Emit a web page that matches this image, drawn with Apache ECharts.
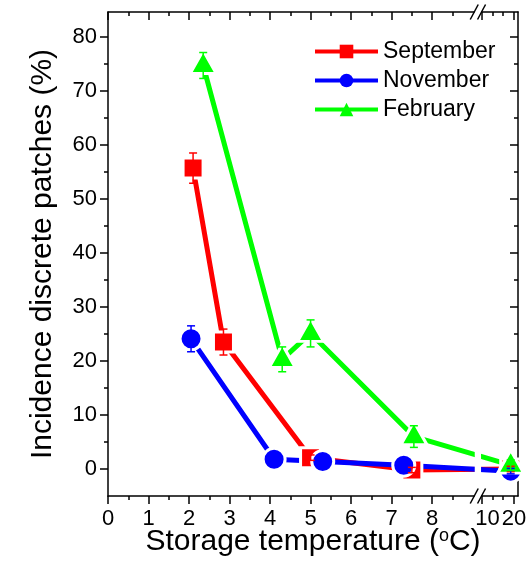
<!DOCTYPE html>
<html>
<head>
<meta charset="utf-8">
<script src="https://cdn.jsdelivr.net/npm/echarts@6/dist/echarts.min.js"></script>
<style>
  html, body { margin: 0; padding: 0; background: #fff; }
  #chart { width: 531px; height: 570px; }
</style>
</head>
<body>
<div id="chart"></div>
<script>
// Incidence of discrete patches (%) by storage temperature (°C), per harvest month
const septTemp = [2.1, 2.85, 5.0, 7.5, 19];
const septIncidence = [55.7, 23.5, 2.1, -0.2, 0];
const septError = [2.8, 2.4, 0.5, 0.5, 0.5];

const novTemp = [2.05, 4.1, 5.3, 7.3, 19];
const novIncidence = [24.1, 1.8, 1.4, 0.7, -0.4];
const novError = [2.4, 0.5, 0.5, 0.5, 0.5];

const febTemp = [2.35, 4.3, 5.0, 7.55, 19];
const febIncidence = [74.7, 20.3, 25.1, 6.0, 0.7];
const febError = [2.4, 2.3, 2.5, 2.0, 1.0];

const xMajorTicks = [0, 1, 2, 3, 4, 5, 6, 7, 8, 10, 20];
const xMinorTicks = [0.5, 1.5, 2.5, 3.5, 4.5, 5.5, 6.5, 7.5, 8.5, 13.33, 16.67];
const yMajorTicks = [0, 10, 20, 30, 40, 50, 60, 70, 80];
const yMinorTicks = [5, 15, 25, 35, 45, 55, 65, 75];

const FONT = '"Liberation Sans", Arial, Helvetica, sans-serif';

// Broken temperature axis: 0–9 °C at full scale, 10–20 °C compressed after the break
const LOW_END = 9.04;      // where the lower segment stops
const HIGH_START = 10;     // first value of the upper segment
const HIGH_POS = 9.22;     // axis position of HIGH_START
const HIGH_SCALE = 0.08;   // axis units per °C in the upper segment
const X_MAX = 10.12;
const Y_MIN = -5, Y_MAX = 84.6;

function toAxis(t) {
  return t <= LOW_END ? t : HIGH_POS + (t - HIGH_START) * HIGH_SCALE;
}
function fromAxis(v) {
  return v <= LOW_END + 0.05 ? v : HIGH_START + (v - HIGH_POS) / HIGH_SCALE;
}

const chart = echarts.init(document.getElementById('chart'), null, { renderer: 'canvas' });

const black = '#000';
const axisLineStyle = { color: black, width: 1.5 };
const tickStyle = { color: black, width: 1.5 };

const xBase = { type: 'value', min: 0, max: X_MAX, splitLine: { show: false } };
const yBase = { type: 'value', min: Y_MIN, max: Y_MAX, splitLine: { show: false } };

function tickAxis(base, position, values, length, inside, showLine) {
  return Object.assign({}, base, {
    position: position,
    axisLine: { show: showLine, onZero: false, lineStyle: axisLineStyle },
    axisTick: { show: true, customValues: values, length: length, inside: inside, lineStyle: tickStyle },
    axisLabel: { show: false },
    minorTick: { show: false }
  });
}

const xMajorPos = xMajorTicks.map(toAxis);
const xMinorPos = xMinorTicks.map(toAxis);

function lineSeries(name, color, symbol, size, offset, temps, values) {
  return {
    type: 'line',
    name: name,
    xAxisIndex: 0,
    yAxisIndex: 0,
    data: temps.map((t, i) => [toAxis(t), values[i]]),
    symbol: symbol,
    symbolSize: size,
    symbolOffset: offset,
    showAllSymbol: true,
    lineStyle: { color: color, width: 5 },
    itemStyle: { color: color, borderColor: '#fff', borderWidth: 3 },
    emphasis: { disabled: true },
    animation: false,
    z: 2
  };
}

function errorSeries(name, color, temps, values, errors) {
  return {
    type: 'custom',
    name: name,
    xAxisIndex: 0,
    yAxisIndex: 0,
    silent: true,
    animation: false,
    z: 4,
    data: temps.map((t, i) => [toAxis(t), values[i] - errors[i], values[i] + errors[i]]),
    renderItem: function (params, api) {
      const x = api.value(0);
      const lo = api.coord([x, api.value(1)]);
      const hi = api.coord([x, api.value(2)]);
      const hw = 4;
      const style = { stroke: color, lineWidth: 1.5 };
      return {
        type: 'group',
        children: [
          { type: 'line', shape: { x1: hi[0], y1: hi[1], x2: lo[0], y2: lo[1] }, style: style },
          { type: 'line', shape: { x1: hi[0] - hw, y1: hi[1], x2: hi[0] + hw, y2: hi[1] }, style: style },
          { type: 'line', shape: { x1: lo[0] - hw, y1: lo[1], x2: lo[0] + hw, y2: lo[1] }, style: style }
        ]
      };
    }
  };
}

const option = {
  backgroundColor: '#fff',
  animation: false,
  grid: { left: 108, top: 12, width: 410, height: 484, containLabel: false, outerBoundsMode: 'none' },
  legend: {
    orient: 'vertical',
    left: 313,
    top: 40,
    padding: 0,
    z: 20,
    itemWidth: 63,
    itemHeight: 17,
    itemGap: 6,
    selectedMode: false,
    textStyle: { fontSize: 23, color: black, fontFamily: FONT },
    lineStyle: { width: 4 },
    itemStyle: { borderWidth: 0 },
    data: ['September', 'November', 'February']
  },
  xAxis: [
    Object.assign({}, xBase, {
      position: 'bottom',
      axisLine: { show: true, onZero: false, lineStyle: axisLineStyle },
      axisTick: { show: true, customValues: xMajorPos, length: 8, lineStyle: tickStyle },
      axisLabel: {
        show: true,
        customValues: xMajorPos,
        margin: 12,
        fontSize: 22,
        color: black,
        fontFamily: FONT,
        formatter: function (v) {
          const t = Math.round(fromAxis(v));
          return t === 10 ? '{shift|10}' : String(t);
        },
        rich: { shift: { fontSize: 22, color: black, fontFamily: FONT, padding: [0, 0, 0, 12] } }
      },
      name: 'Storage temperature ({sup|o}C)',
      nameLocation: 'middle',
      nameGap: 31,
      nameMoveOverlap: false,
      nameTextStyle: {
        fontSize: 30, color: black, fontFamily: FONT,
        rich: { sup: { fontSize: 18, color: black, fontFamily: FONT, verticalAlign: 'top', padding: [0, 0, 12, 0] } }
      }
    }),
    tickAxis(xBase, 'top', xMajorPos, 8, true, true),
    tickAxis(xBase, 'bottom', xMinorPos, 4, false, false),
    tickAxis(xBase, 'top', xMinorPos, 4, true, false)
  ],
  yAxis: [
    Object.assign({}, yBase, {
      position: 'left',
      axisLine: { show: true, onZero: false, lineStyle: axisLineStyle },
      axisTick: { show: true, customValues: yMajorTicks, length: 8, lineStyle: tickStyle },
      axisLabel: {
        show: true, customValues: yMajorTicks, margin: 11,
        fontSize: 22, color: black, fontFamily: FONT
      },
      name: 'Incidence discrete patches (%)',
      nameLocation: 'middle',
      nameRotate: 90,
      nameGap: 50,
      nameMoveOverlap: false,
      nameTextStyle: { fontSize: 30, color: black, fontFamily: FONT }
    }),
    tickAxis(yBase, 'right', yMajorTicks, 8, true, true),
    tickAxis(yBase, 'left', yMinorTicks, 4, false, false),
    tickAxis(yBase, 'right', yMinorTicks, 4, true, false)
  ],
  series: [
    lineSeries('September', '#ff0000', 'rect', 20, [0, 0], septTemp, septIncidence),
    lineSeries('November', '#0000ff', 'circle', 22, [0, 0], novTemp, novIncidence),
    lineSeries('February', '#00ff00', 'triangle', [26, 23], [0, -3.5], febTemp, febIncidence),
    errorSeries('September error', '#ff0000', septTemp, septIncidence, septError),
    errorSeries('November error', '#0000ff', novTemp, novIncidence, novError),
    errorSeries('February error', '#00ff00', febTemp, febIncidence, febError)
  ]
};

chart.setOption(option);

// Axis break: blank the band between the two segments (over the data lines, under the legend)
// and mark it with "//" on both frame edges
const xL = chart.convertToPixel({ xAxisIndex: 0 }, LOW_END);
const xR = chart.convertToPixel({ xAxisIndex: 0 }, HIGH_POS);
const yTop = chart.convertToPixel({ yAxisIndex: 0 }, Y_MAX);
const yBot = chart.convertToPixel({ yAxisIndex: 0 }, Y_MIN);

const breakMarks = [];
breakMarks.push({
  type: 'rect', z: 3,
  shape: { x: xL + 0.5, y: yTop - 3, width: xR - xL - 1, height: yBot - yTop + 6 },
  style: { fill: '#fff' }
});
[xL, xR].forEach(function (x) {
  [yTop, yBot].forEach(function (y) {
    breakMarks.push({
      type: 'line', z: 10,
      shape: { x1: x - 4, y1: y + 7.5, x2: x + 4, y2: y - 7.5 },
      style: { stroke: black, lineWidth: 1.5 }
    });
  });
});
chart.setOption({ graphic: breakMarks });
</script>
</body>
</html>
